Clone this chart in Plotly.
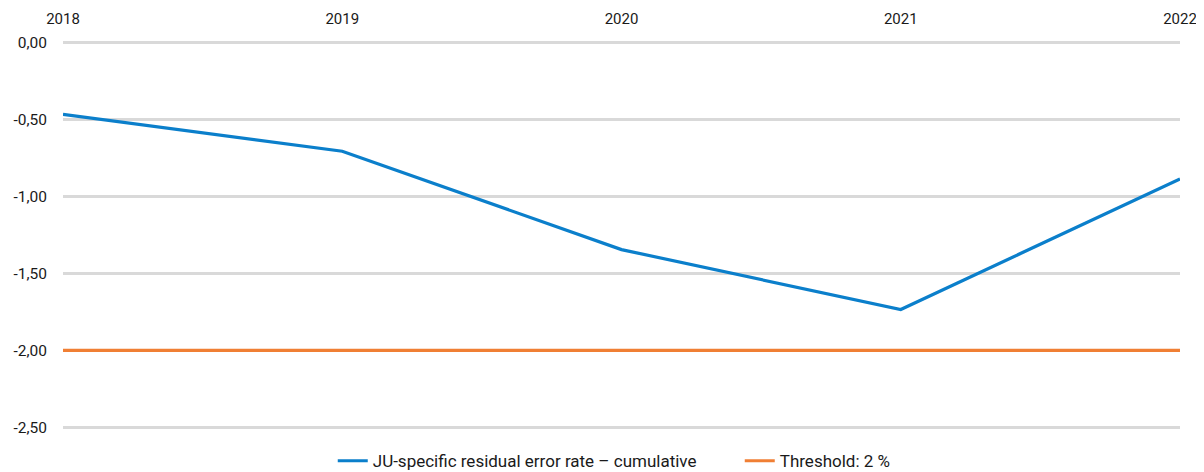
import plotly.graph_objects as go

years = [2018, 2019, 2020, 2021, 2022]
residual_error = [-0.465, -0.705, -1.345, -1.735, -0.885]
threshold = [-2.0, -2.0, -2.0, -2.0, -2.0]
y_ticks = [0, -0.5, -1.0, -1.5, -2.0, -2.5]
y_tick_labels = ["0,00", "-0,50", "-1,00", "-1,50", "-2,00", "-2,50"]

fig = go.Figure()
fig.add_trace(go.Scatter(x=years, y=residual_error, mode="lines",
                         name="JU-specific residual error rate – cumulative",
                         line=dict(color="#0B7FCB", width=3.2)))
fig.add_trace(go.Scatter(x=years, y=threshold, mode="lines",
                         name="Threshold: 2 %",
                         line=dict(color="#F07F34", width=3.2)))

# page body has an 8px margin, so the figure is sized/offset to compensate
fig.update_layout(
    width=1196, height=464,
    margin=dict(l=55, r=24, t=33, b=43, autoexpand=False),
    paper_bgcolor="white", plot_bgcolor="white",
    font=dict(family="Roboto", size=15, color="#1a1a1a"),
    showlegend=True,
    legend=dict(orientation="h", x=0.2415, xanchor="left", y=-0.083, yanchor="middle",
                font=dict(size=17, color="#1a1a1a"), tracegroupgap=0,
                entrywidth=362, entrywidthmode="pixels"),
    xaxis=dict(side="top", range=[2018, 2022], tickvals=years, ticktext=[str(y) for y in years],
               showgrid=False, zeroline=False, showline=False, automargin=False,
               ticks="outside", ticklen=10, tickcolor="rgba(0,0,0,0)",
               tickfont=dict(size=15)),
    yaxis=dict(range=[-2.512, 0.012], tickvals=y_ticks, ticktext=y_tick_labels,
               showgrid=True, gridcolor="#D9D9D9", gridwidth=2.5,
               zeroline=False, showline=False, automargin=False,
               ticks="outside", ticklen=12, tickcolor="rgba(0,0,0,0)",
               tickfont=dict(size=15.5)),
)

fig.write_html("out.html")
